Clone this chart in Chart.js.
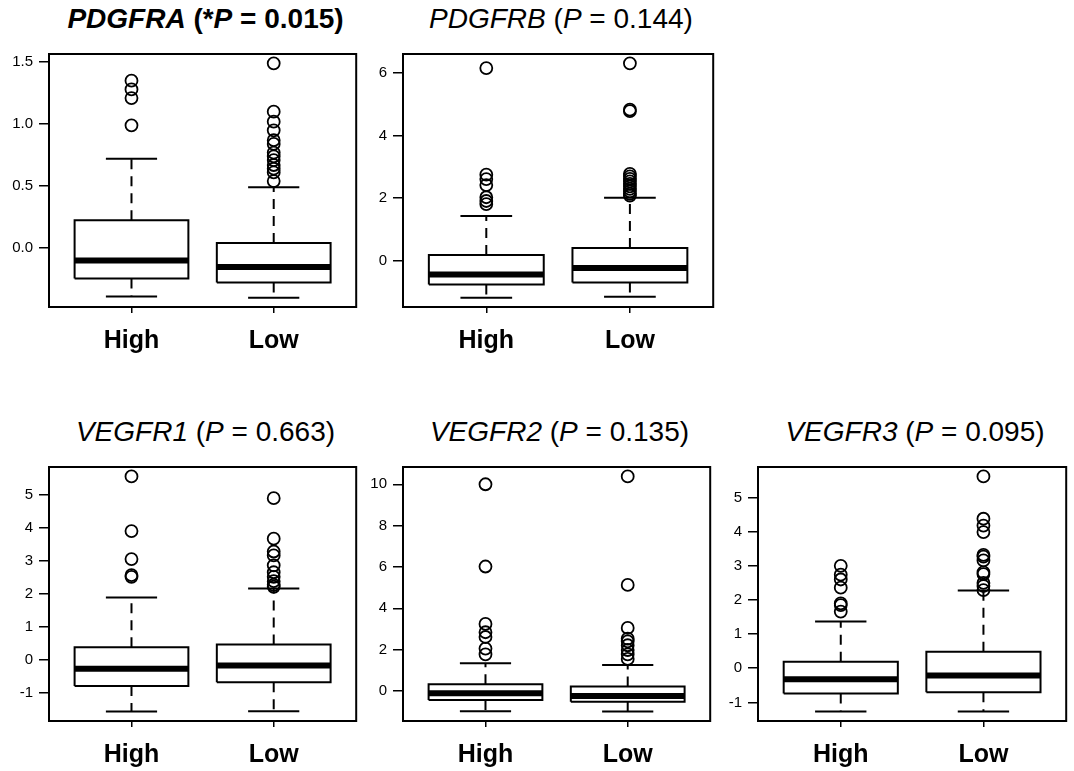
<!DOCTYPE html>
<html>
<head>
<meta charset="utf-8">
<script src="https://cdn.jsdelivr.net/npm/chart.js@4.4.1/dist/chart.umd.min.js"></script>
<style>
  html, body { margin: 0; padding: 0; background: #fff; overflow: hidden; }
  body { width: 1074px; height: 771px; position: relative; font-family: "Liberation Sans", Arial, Helvetica, sans-serif; }
  canvas { position: absolute; }
  .ttl { position: absolute; width: 420px; text-align: center; font-size: 28px; line-height: 28px; color: #000; white-space: nowrap; }
</style>
</head>
<body>
<script>
// groups and titles
var groups = ['High', 'Low'];
var genes = ['PDGFRA', 'PDGFRB', 'VEGFR1', 'VEGFR2', 'VEGFR3'];
var pValues = ['0.015', '0.144', '0.663', '0.135', '0.095'];

// box stats: [lower whisker, Q1, median, Q3, upper whisker]
var pdgfraHigh = [-0.39, -0.245, -0.10, 0.225, 0.72];
var pdgfraLow = [-0.40, -0.277, -0.153, 0.04, 0.49];
var pdgfraHighOut = [0.99, 1.21, 1.28, 1.35];
var pdgfraLowOut = [0.54, 0.61, 0.64, 0.67, 0.71, 0.74, 0.77, 0.84, 0.87, 0.95, 1.02, 1.10, 1.49];
var pdgfraTicks = [0, 0.5, 1, 1.5];

var pdgfrbHigh = [-1.18, -0.76, -0.44, 0.18, 1.43];
var pdgfrbLow = [-1.15, -0.70, -0.23, 0.41, 2.01];
var pdgfrbHighOut = [1.81, 1.91, 2.03, 2.42, 2.61, 2.75, 6.16];
var pdgfrbLowOut = [2.08, 2.14, 2.22, 2.30, 2.38, 2.46, 2.54, 2.62, 2.70, 2.78, 4.78, 4.83, 6.31];
var pdgfrbTicks = [0, 2, 4, 6];

var vegfr1High = [-1.57, -0.79, -0.27, 0.38, 1.89];
var vegfr1Low = [-1.56, -0.68, -0.17, 0.47, 2.17];
var vegfr1HighOut = [2.52, 2.57, 3.06, 3.91, 5.57];
var vegfr1LowOut = [2.22, 2.28, 2.39, 2.52, 2.66, 2.87, 3.17, 3.29, 3.68, 4.91];
var vegfr1Ticks = [-1, 0, 1, 2, 3, 4, 5];

var vegfr2High = [-0.98, -0.44, -0.11, 0.32, 1.34];
var vegfr2Low = [-1.00, -0.52, -0.24, 0.21, 1.26];
var vegfr2HighOut = [1.77, 2.05, 2.61, 2.84, 3.24, 6.02, 10.0];
var vegfr2LowOut = [1.55, 1.77, 1.98, 2.21, 2.40, 2.53, 3.05, 5.13, 10.38];
var vegfr2Ticks = [0, 2, 4, 6, 8, 10];

var vegfr3High = [-1.27, -0.74, -0.32, 0.19, 1.37];
var vegfr3Low = [-1.27, -0.70, -0.21, 0.48, 2.28];
var vegfr3HighOut = [1.66, 1.85, 1.90, 2.36, 2.60, 2.74, 3.00];
var vegfr3LowOut = [2.29, 2.41, 2.50, 2.76, 2.81, 3.16, 3.27, 3.32, 3.99, 4.18, 4.38, 5.62];
var vegfr3Ticks = [-1, 0, 1, 2, 3, 4, 5];

var panels = [
  { stats: [pdgfraHigh, pdgfraLow], outs: [pdgfraHighOut, pdgfraLowOut], ticks: pdgfraTicks, digits: 1, bold: true },
  { stats: [pdgfrbHigh, pdgfrbLow], outs: [pdgfrbHighOut, pdgfrbLowOut], ticks: pdgfrbTicks, digits: 0 },
  { stats: [vegfr1High, vegfr1Low], outs: [vegfr1HighOut, vegfr1LowOut], ticks: vegfr1Ticks, digits: 0 },
  { stats: [vegfr2High, vegfr2Low], outs: [vegfr2HighOut, vegfr2LowOut], ticks: vegfr2Ticks, digits: 0 },
  { stats: [vegfr3High, vegfr3Low], outs: [vegfr3HighOut, vegfr3LowOut], ticks: vegfr3Ticks, digits: 0 }
];

// plot box of each panel on the page: left, top, right, bottom
var boxes = [[49, 49, 362, 307], [403, 49, 719, 307], [49, 462, 362, 721], [403, 462, 716, 721], [758, 462, 1072, 721]];
var titleTops = [5, 5, 418, 418];

var FONT = '"Liberation Sans", Arial, Helvetica, sans-serif';
var Y_AXIS_W = 49, PAD_TOP = 10, PAD_RIGHT = 2, X_AXIS_H = 50;
var HALF = 0.4, CAP = 0.18;

Chart.defaults.font.family = FONT;
Chart.defaults.color = '#000';

var frame = {
  id: 'frame',
  afterDraw: function (chart) {
    var a = chart.chartArea, ctx = chart.ctx;
    ctx.save();
    ctx.lineWidth = 2;
    ctx.strokeStyle = '#000';
    ctx.strokeRect(a.left, a.top, a.right - a.left, a.bottom - a.top);
    ctx.restore();
  }
};

function seg(points, width, dash) {
  return {
    type: 'scatter', showLine: true, data: points, pointRadius: 0, pointHoverRadius: 0,
    borderColor: '#000', borderWidth: width, borderDash: dash || [], fill: false,
    borderCapStyle: 'butt', borderJoinStyle: 'miter', tension: 0
  };
}

function boxDatasets(s, outs, x) {
  var lo = s[0], q1 = s[1], med = s[2], q3 = s[3], hi = s[4];
  return [
    {
      type: 'scatter', data: outs.map(function (v) { return { x: x, y: v }; }),
      pointRadius: 6, pointBorderWidth: 1.8, borderColor: '#000', backgroundColor: 'rgba(0,0,0,0)'
    },
    seg([{ x: x - HALF, y: med }, { x: x + HALF, y: med }], 6),
    seg([{ x: x - HALF, y: q1 }, { x: x + HALF, y: q1 }, { x: x + HALF, y: q3 }, { x: x - HALF, y: q3 }, { x: x - HALF, y: q1 }], 2),
    seg([{ x: x, y: q3 }, { x: x, y: hi }], 2, [10, 7]),
    seg([{ x: x, y: q1 }, { x: x, y: lo }], 2, [10, 7]),
    seg([{ x: x - CAP, y: hi }, { x: x + CAP, y: hi }], 2),
    seg([{ x: x - CAP, y: lo }, { x: x + CAP, y: lo }], 2)
  ];
}

panels.forEach(function (p, i) {
  var b = boxes[i];
  var center = (b[0] + b[2]) / 2;

  // title
  var t = document.createElement('div');
  t.className = 'ttl';
  t.style.left = (center - 210) + 'px';
  t.style.top = (i < 2 ? titleTops[0] : titleTops[2]) + 'px';
  if (p.bold) {
    t.innerHTML = '<b><i>' + genes[i] + '</i> (*<i>P</i> = ' + pValues[i] + ')</b>';
  } else {
    t.innerHTML = '<i>' + genes[i] + '</i> (<i>P</i> = ' + pValues[i] + ')';
  }
  document.body.appendChild(t);

  var cv = document.createElement('canvas');
  var w = (b[2] - b[0]) + Y_AXIS_W + PAD_RIGHT;
  var h = (b[3] - b[1]) + PAD_TOP + X_AXIS_H;
  cv.width = w; cv.height = h;
  cv.style.left = (b[0] - Y_AXIS_W) + 'px';
  cv.style.top = (b[1] - PAD_TOP) + 'px';
  document.body.appendChild(cv);

  var all = [];
  p.stats.forEach(function (s) { all = all.concat(s); });
  p.outs.forEach(function (o) { all = all.concat(o); });
  var mn = Math.min.apply(null, all), mx = Math.max.apply(null, all);
  var ext = (mx - mn) * 0.04;

  var datasets = [];
  p.stats.forEach(function (s, g) {
    datasets = datasets.concat(boxDatasets(s, p.outs[g], g + 1));
  });

  new Chart(cv, {
    type: 'scatter',
    data: { datasets: datasets },
    plugins: [frame],
    options: {
      responsive: false,
      animation: false,
      devicePixelRatio: 1,
      layout: { padding: { top: PAD_TOP, right: PAD_RIGHT, left: 0, bottom: 0 } },
      plugins: { legend: { display: false }, tooltip: { enabled: false } },
      events: [],
      scales: {
        x: {
          type: 'linear', min: 0.42, max: 2.58,
          afterBuildTicks: function (s) { s.ticks = [{ value: 1 }, { value: 2 }]; },
          afterFit: function (s) { s.height = X_AXIS_H; },
          ticks: {
            callback: function (v) { return groups[v - 1]; },
            font: { size: 25, weight: 'bold' }, color: '#000', padding: 13,
            maxRotation: 0, autoSkip: false
          },
          grid: { drawOnChartArea: false, tickLength: 6, color: '#000', lineWidth: 1.5 },
          border: { display: false }
        },
        y: {
          type: 'linear', min: mn - ext, max: mx + ext,
          afterBuildTicks: function (s) { s.ticks = p.ticks.map(function (v) { return { value: v }; }); },
          afterFit: function (s) { s.width = Y_AXIS_W; },
          ticks: {
            callback: function (v) { return v.toFixed(p.digits); },
            font: { size: 15 }, color: '#000', padding: 6
          },
          grid: { drawOnChartArea: false, tickLength: 10, color: '#000', lineWidth: 1.5 },
          border: { display: false }
        }
      }
    }
  });
});
</script>
</body>
</html>
